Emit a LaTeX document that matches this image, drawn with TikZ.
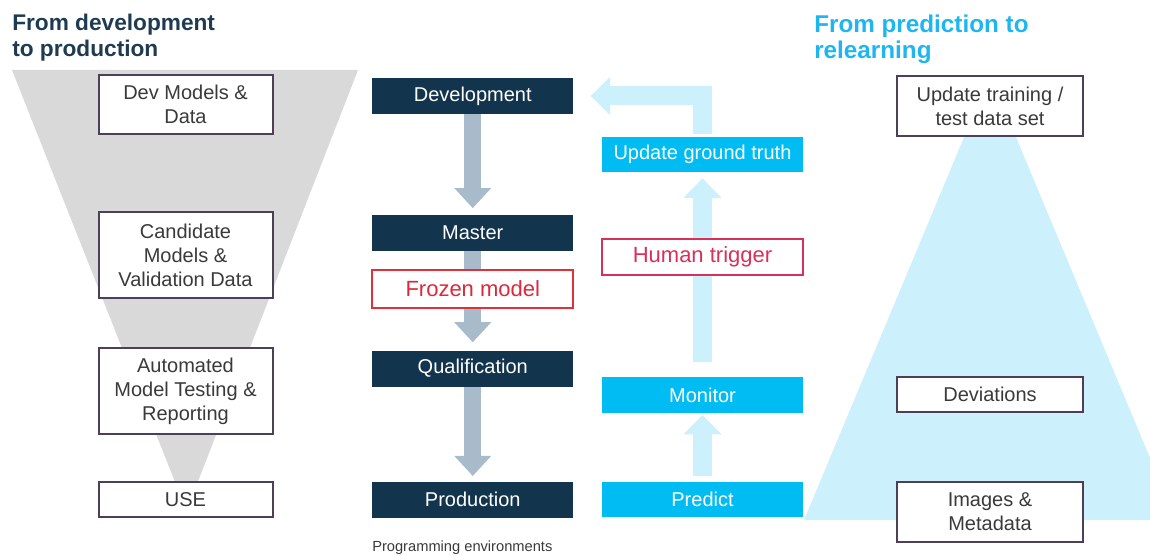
\documentclass[tikz,border=0pt]{standalone}
\usepackage{fontspec}
\setmainfont{Liberation Sans}
\usetikzlibrary{arrows.meta}

\definecolor{navy}{HTML}{12344D}
\definecolor{stepgray}{HTML}{A7BBCB}
\definecolor{funnelgray}{HTML}{D9D9D9}
\definecolor{sky}{HTML}{00BCF2}
\definecolor{palesky}{HTML}{CCF0FC}
\definecolor{boxline}{HTML}{4D3F57}
\definecolor{frozenred}{HTML}{E0303A}
\definecolor{alertpink}{HTML}{D9305A}
\definecolor{titlenavy}{HTML}{1F3B50}
\definecolor{titlesky}{HTML}{1EB6F0}
\definecolor{bodytext}{HTML}{3A3A3A}

\begin{document}
\begin{tikzpicture}[x=0.75pt, y=-0.75pt,
  boxfont/.style={font=\fontsize{15}{18}\selectfont},
  notebox/.style={boxfont, draw=boxline, line width=1.5pt, fill=white, text=bodytext,
    align=center, inner sep=0pt, minimum width=130.5pt},
  rightnote/.style={notebox, minimum width=140pt},
  stagebox/.style={boxfont, fill=navy, text=white, inner sep=0pt,
    minimum width=151pt, minimum height=27pt},
  skybox/.style={boxfont, fill=sky, text=white, inner sep=0pt,
    minimum width=150.75pt, minimum height=26.5pt},
  alertbox/.style={font=\fontsize{16.5}{20}\selectfont, fill=white, line width=1.5pt,
    inner sep=0pt, minimum height=27.5pt},
  downflow/.style={draw=stepgray, line width=12.75pt,
    -{Triangle[width=27.75pt, length=15pt, line width=0pt]}},
  upflow/.style={draw=palesky, line width=14.25pt, line join=miter,
    -{Triangle[width=28.5pt, length=14.5pt, line width=0pt]}},
  heading/.style={align=left, anchor=north west, inner sep=0pt}
]
\path[use as bounding box] (0,0) rectangle (1150,556);

% grey funnel behind the development-to-production boxes
\fill[funnelgray] (12,70) -- (358,70) -- (186.5,511) -- cycle;

% pale blue pyramid behind the relearning boxes
\begin{scope}
  \clip (0,0) rectangle (1150,556);
  \fill[palesky] (990,75) -- (1176,520) -- (804,520) -- cycle;
\end{scope}

% headings
\node[heading, text=titlenavy, font=\fontsize{17}{19.5}\selectfont\bfseries]
  (lefttitle) at (12,14) {From development\\to production};
\node[heading, text=titlesky, font=\fontsize{18.2}{19.5}\selectfont\bfseries]
  (righttitle) at (814,15) {From prediction to\\relearning};

% left column
\node[notebox, minimum height=44.25pt] (devdata) at (185.5,104.5) {Dev Models \&\\Data};
\node[notebox, minimum height=64.5pt] (candidate) at (185.5,255) {Candidate\\Models \&\\Validation Data};
\node[notebox, minimum height=64.5pt] (autotest) at (185.5,391) {Automated\\Model Testing \&\\Reporting};
\node[notebox, minimum height=26.25pt] (use) at (185.5,499.5) {USE};

% middle column: promotion stages
\node[stagebox] (dev) at (472.75,96) {Development};
\node[stagebox] (master) at (472.75,233) {Master};
\node[stagebox] (qual) at (472.75,368.5) {Qualification};
\node[stagebox] (prod) at (472.75,499.5) {Production};
\node[font=\fontsize{11}{13}\selectfont, text=bodytext, anchor=north west, inner sep=0pt]
  (progenv) at (372,541) {Programming environments};

% right column: prediction loop
\node[skybox] (ugt) at (702.5,154.5) {Update ground truth};
\node[skybox] (monitor) at (702.5,395) {Monitor};
\node[skybox] (predict) at (702.5,499.5) {Predict};

% far right boxes
\node[rightnote, minimum height=45pt] (updtrain) at (990,106) {Update training /\\test data set};
\node[rightnote, minimum height=26.25pt] (deviations) at (990,394.5) {Deviations};
\node[rightnote, minimum height=45pt] (images) at (990,512) {Images \&\\Metadata};

% promotion arrows
\draw[downflow, shorten >=5pt] (dev.south) -- (master.north);
\draw[downflow, shorten >=6pt] (master.south) -- (qual.north);
\draw[downflow, shorten >=4pt] (qual.south) -- (prod.north);

% relearning loop arrows
\draw[upflow, shorten <=4pt, shorten >=1.5pt] (predict.north) -- (monitor.south);
\draw[upflow, shorten <=11pt, shorten >=4.5pt] (monitor.north) -- (ugt.north |- ugt.south);
\draw[upflow, shorten <=2pt, shorten >=12.75pt] (ugt.north) |- (dev.east);

% boxes laid over the arrows
\node[alertbox, draw=frozenred, text=frozenred!85!purple, minimum width=151pt,
  minimum height=28.5pt] (frozen) at (472.75,289) {Frozen model};
\node[alertbox, draw=alertpink, text=alertpink, minimum width=150.75pt] (trigger)
  at (702.5,257) {Human trigger};
\end{tikzpicture}
\end{document}
